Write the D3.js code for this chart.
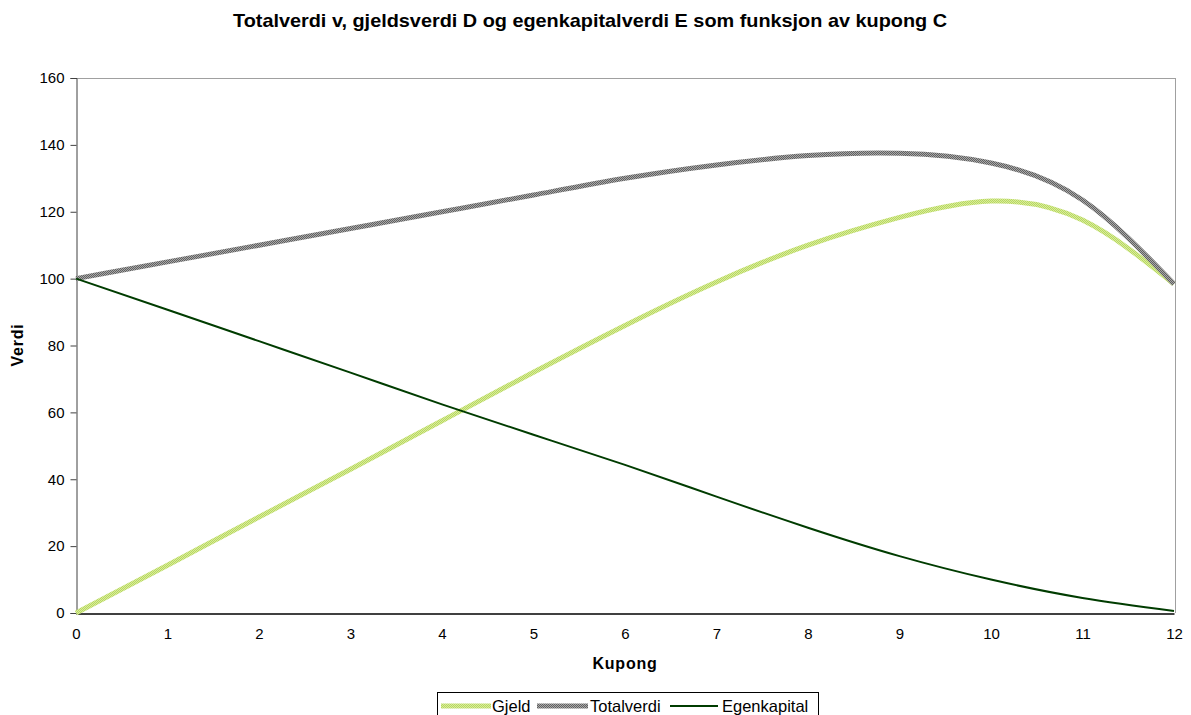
<!DOCTYPE html>
<html>
<head>
<meta charset="utf-8">
<script src="https://cdn.jsdelivr.net/npm/d3@7"></script>
<style>
  html, body { margin: 0; padding: 0; background: #fff; }
  svg { display: block; font-family: "Liberation Sans", Arial, sans-serif; }
</style>
</head>
<body>
<svg id="chart" width="1191" height="715"></svg>
<script>
const kupong = [0, 1, 2, 3, 4, 5, 6, 7, 8, 9, 10, 11, 12];
const gjeld = [0, 14.3, 28.7, 43, 57.5, 72, 86, 99, 110, 118.3, 123.2, 117.5, 98.4];
const totalverdi = [100, 105, 110, 115, 120, 125, 130, 134, 136.8, 137.5, 134.6, 123.5, 98.4];
const egenkapital = [100, 90.7, 81.3, 71.9, 62.4, 53.3, 44.3, 34.8, 25.5, 17, 10, 4.5, 0.6];
const yTicks = [0, 20, 40, 60, 80, 100, 120, 140, 160];
const xTicks = [0, 1, 2, 3, 4, 5, 6, 7, 8, 9, 10, 11, 12];
const seriesNames = ["Gjeld", "Totalverdi", "Egenkapital"];

const svg = d3.select("#chart");
const mLeft = 76, mRight = 1175, mTop = 78, mBottom = 613;

const x = d3.scaleLinear().domain([0, 12]).range([mLeft, mRight - 1]);
const y = d3.scaleLinear().domain([0, 160]).range([mBottom, mTop]);

// patterns for dithered lines
const defs = svg.append("defs");
function checker(id, c1, c2) {
  const p = defs.append("pattern").attr("id", id).attr("patternUnits", "userSpaceOnUse")
    .attr("width", 2).attr("height", 2);
  p.append("rect").attr("width", 2).attr("height", 2).attr("fill", c1);
  p.append("rect").attr("width", 1).attr("height", 1).attr("fill", c2);
  p.append("rect").attr("x", 1).attr("y", 1).attr("width", 1).attr("height", 1).attr("fill", c2);
}
checker("patG", "#d8ec9c", "#b8d860");
checker("patT", "#a8a8a8", "#606060");

// plot border (top/right gray)
svg.append("line").attr("x1", mLeft).attr("x2", mRight).attr("y1", mTop + 0.5).attr("y2", mTop + 0.5)
  .attr("stroke", "#a0a0a0").attr("stroke-width", 1);
svg.append("line").attr("x1", mRight + 0.5).attr("x2", mRight + 0.5).attr("y1", mTop).attr("y2", mBottom)
  .attr("stroke", "#a0a0a0").attr("stroke-width", 1);

// Y axis
const yAxis = d3.axisLeft(y).tickValues(yTicks).tickSize(6).tickPadding(6).tickFormat(d3.format("d"));
const gy = svg.append("g").attr("transform", `translate(${mLeft + 0.5},0)`).call(yAxis);
gy.select(".domain").attr("stroke", "#404040");
gy.selectAll(".tick line").attr("stroke", "#404040");
gy.selectAll(".tick text").attr("font-size", 15).attr("fill", "#000")
  .attr("font-family", "'Liberation Sans', Arial, sans-serif");

// X axis
const xAxis = d3.axisBottom(x).tickValues(xTicks).tickSize(0).tickPadding(15).tickFormat(d3.format("d"));
const gx = svg.append("g").attr("transform", `translate(0,${mBottom + 0.5})`).call(xAxis);
gx.select(".domain").attr("stroke", "#000").attr("stroke-width", 1.5);
gx.selectAll(".tick text").attr("font-size", 15).attr("fill", "#000")
  .attr("font-family", "'Liberation Sans', Arial, sans-serif");

// lines
const line = d3.line().x((d, i) => x(kupong[i])).y(d => y(d)).curve(d3.curveNatural);
const plot = svg.append("g");
plot.append("path").datum(gjeld).attr("d", line).attr("fill", "none")
  .attr("stroke", "url(#patG)").attr("stroke-width", 5);
plot.append("path").datum(totalverdi).attr("d", line).attr("fill", "none")
  .attr("stroke", "url(#patT)").attr("stroke-width", 5);
plot.append("path").datum(egenkapital).attr("d", line).attr("fill", "none")
  .attr("stroke", "#003c00").attr("stroke-width", 2);

// title
svg.append("text").attr("x", 590).attr("y", 27).attr("text-anchor", "middle")
  .attr("font-size", 18.5).attr("font-weight", "bold")
  .attr("textLength", 714).attr("lengthAdjust", "spacingAndGlyphs")
  .text("Totalverdi v, gjeldsverdi D og egenkapitalverdi E som funksjon av kupong C");

// axis titles
svg.append("text").attr("x", 625).attr("y", 669).attr("text-anchor", "middle")
  .attr("font-size", 16).attr("font-weight", "bold").attr("letter-spacing", 0.8).text("Kupong");
svg.append("text").attr("transform", "translate(23,345) rotate(-90)").attr("text-anchor", "middle")
  .attr("font-size", 16).attr("font-weight", "bold").attr("letter-spacing", 0.8).text("Verdi");

// legend
const lg = svg.append("g");
lg.append("rect").attr("x", 437.5).attr("y", 692.5).attr("width", 381).attr("height", 30)
  .attr("fill", "#fff").attr("stroke", "#000").attr("stroke-width", 1);
const items = [
  { name: seriesNames[0], x0: 441, x1: 491, tx: 492, stroke: "url(#patG)", w: 5 },
  { name: seriesNames[1], x0: 537, x1: 588, tx: 590, stroke: "url(#patT)", w: 5 },
  { name: seriesNames[2], x0: 670, x1: 718, tx: 722, stroke: "#003c00", w: 2 }
];
items.forEach(it => {
  lg.append("line").attr("x1", it.x0).attr("x2", it.x1).attr("y1", 706).attr("y2", 706)
    .attr("stroke", it.stroke).attr("stroke-width", it.w);
  lg.append("text").attr("x", it.tx).attr("y", 712).attr("font-size", 16.5).text(it.name);
});
</script>
</body>
</html>
